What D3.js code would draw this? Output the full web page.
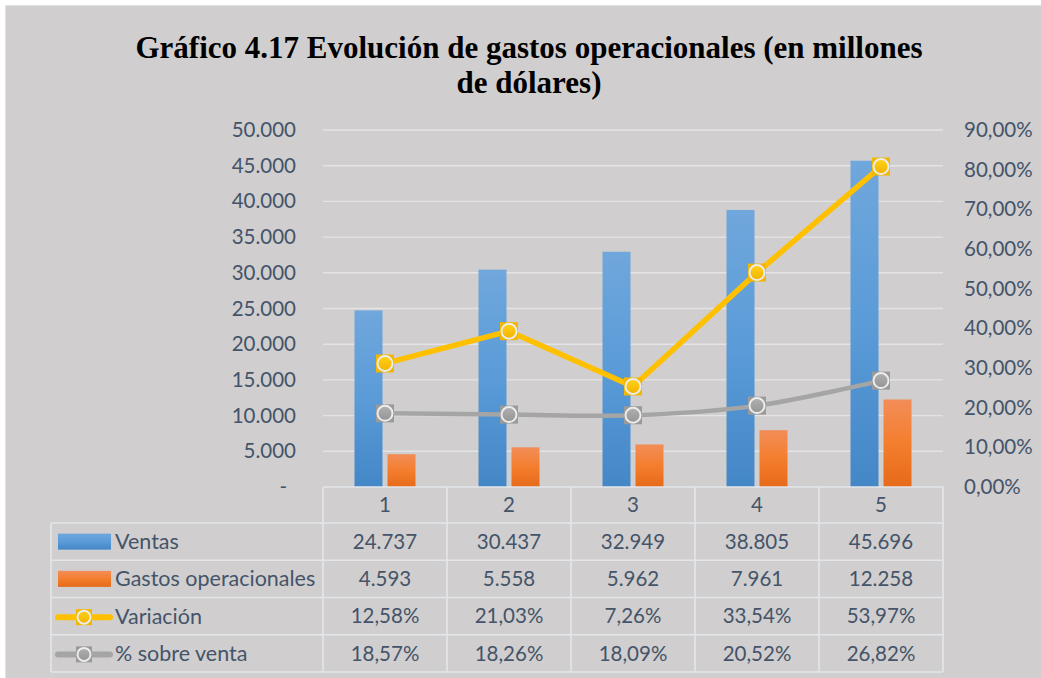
<!DOCTYPE html>
<html><head><meta charset="utf-8">
<script src="https://cdn.jsdelivr.net/npm/d3@7"></script>
<style>body{margin:0;background:#fff;}svg{display:block;}</style>
</head><body>
<svg id="c" width="1041" height="678"></svg>
<script>
const categories = ["1","2","3","4","5"];
const ventas = [24737, 30437, 32949, 38805, 45696];
const gastos = [4593, 5558, 5962, 7961, 12258];
const variacion = [12.58, 21.03, 7.26, 33.54, 53.97];
const sobreVenta = [18.57, 18.26, 18.09, 20.52, 26.82];
const leftTicks = [0,5000,10000,15000,20000,25000,30000,35000,40000,45000,50000];
const rightTicks = [0,10,20,30,40,50,60,70,80,90];
const ventasLabels = ["24.737","30.437","32.949","38.805","45.696"];
const gastosLabels = ["4.593","5.558","5.962","7.961","12.258"];
const variacionLabels = ["12,58%","21,03%","7,26%","33,54%","53,97%"];
const sobreLabels = ["18,57%","18,26%","18,09%","20,52%","26,82%"];
const titleLines = ["Gráfico 4.17 Evolución de gastos operacionales (en millones","de dólares)"];

const svg = d3.select("#c");
const TXT = "#44546a", FONT = "Lato, 'Open Sans', sans-serif";
const NUM = 20.5, NAME = 21.5;
const plotL = 323, plotR = 943, plotT = 130, plotB = 487;

const defs = svg.append("defs");
function lg(id, stops){
  const g = defs.append("linearGradient").attr("id",id).attr("x1",0).attr("y1",0).attr("x2",0).attr("y2",1);
  stops.forEach(([o,c])=>g.append("stop").attr("offset",o).attr("stop-color",c));
}
lg("gBlue",[[0,"#70a7dc"],[0.5,"#5a9bd8"],[1,"#4487c7"]]);
lg("gOrange",[[0,"#f28d58"],[0.5,"#f47e2e"],[1,"#e66a19"]]);
lg("gYel",[[0,"#ffd21a"],[1,"#f3b300"]]);
lg("gGray",[[0,"#b0b0b0"],[1,"#959595"]]);

svg.append("rect").attr("x",5.5).attr("y",5.5).attr("width",1040).attr("height",678)
  .attr("fill","#d0cece").attr("stroke","#e2e2e2").attr("stroke-width",1);

// title
svg.append("g").selectAll("text").data(titleLines).join("text")
  .attr("x",529).attr("y",(d,i)=>58+i*35).attr("text-anchor","middle")
  .attr("font-family","'Liberation Serif','Times New Roman',serif").attr("font-weight","bold")
  .attr("font-size",31).attr("fill","#000").text(d=>d);

const yL = d3.scaleLinear().domain([0,50000]).range([plotB,plotT]);
const yR = d3.scaleLinear().domain([0,90]).range([plotB,plotT]);
const x0 = d3.scaleBand().domain(categories).range([plotL,plotR]);
const x1 = d3.scaleBand().domain(["v","g"]).range([0,61]).paddingInner(0.1515);
const groupOff = (x0.bandwidth()-61)/2;

// gridlines
svg.append("g").selectAll("line").data(leftTicks.slice(1)).join("line")
  .attr("x1",plotL).attr("x2",plotR).attr("y1",d=>yL(d)).attr("y2",d=>yL(d))
  .attr("stroke","#e4e4e6").attr("stroke-width",1.4);

// left axis
const fmtL = d => d===0 ? "-" : d3.format(",")(d).replace(/,/g,".");
const axL = d3.axisLeft(yL).tickValues(leftTicks).tickSize(0).tickPadding(0).tickFormat(fmtL);
const gL = svg.append("g").attr("transform","translate(296,0)").call(axL);
gL.select(".domain").remove();
gL.selectAll("text").attr("font-family",FONT).attr("font-size",NUM).attr("fill",TXT)
  .attr("dx",d=>d===0?-9:0);

// right axis
const axR = d3.axisRight(yR).tickValues(rightTicks).tickSize(0).tickPadding(0)
  .tickFormat(d=>d3.format(".2f")(d).replace(".",",")+"%");
const gR = svg.append("g").attr("transform","translate(964,0)").call(axR);
gR.select(".domain").remove();
gR.selectAll("text").attr("font-family",FONT).attr("font-size",NUM).attr("fill",TXT);

// bars
const bars = svg.append("g");
categories.forEach((c,i)=>{
  const gx = x0(c)+groupOff;
  bars.append("rect").attr("x",gx+x1("v")).attr("width",x1.bandwidth())
    .attr("y",yL(ventas[i])).attr("height",plotB-yL(ventas[i])).attr("fill","url(#gBlue)");
  bars.append("rect").attr("x",gx+x1("g")).attr("width",x1.bandwidth())
    .attr("y",yL(gastos[i])).attr("height",plotB-yL(gastos[i])).attr("fill","url(#gOrange)");
});

// stacked lines
const rows = categories.map((c,i)=>({c, sobre:sobreVenta[i], vari:variacion[i]}));
const stack = d3.stack().keys(["sobre","vari"])(rows);
const cx = c => x0(c)+x0.bandwidth()/2;
const grayPts = stack[0].map(d=>[cx(d.data.c), yR(d[1])]);
const yelPts = stack[1].map(d=>[cx(d.data.c), yR(d[1])]);

svg.append("path").attr("d",d3.line().curve(d3.curveCatmullRom.alpha(0.5))(grayPts))
  .attr("fill","none").attr("stroke","#a5a5a5").attr("stroke-width",4.5).attr("stroke-linecap","round");
svg.append("path").attr("d",d3.line()(yelPts))
  .attr("fill","none").attr("stroke","#ffc000").attr("stroke-width",5.5).attr("stroke-linejoin","round").attr("stroke-linecap","round");

function marker(g, x, y, size, sq, grad, r){
  g.append("rect").attr("x",x-size/2).attr("y",y-size/2).attr("width",size).attr("height",size).attr("fill",sq);
  g.append("circle").attr("cx",x).attr("cy",y).attr("r",r).attr("fill",grad)
    .attr("stroke","#ececec").attr("stroke-width",2);
}
const mk = svg.append("g");
grayPts.forEach(p=>marker(mk,p[0],p[1],18,"#9a9a9a","url(#gGray)",7.5));
yelPts.forEach(p=>marker(mk,p[0],p[1],18,"#f2b700","url(#gYel)",7.5));

// data table
const tbl = svg.append("g");
const tL = 51, rowH = 37.25, tTop = 523;
const LC = "#e3e6eb", LW = 1.6;
tbl.append("line").attr("x1",plotL).attr("x2",plotR).attr("y1",plotB).attr("y2",plotB).attr("stroke",LC).attr("stroke-width",LW);
for(let r=0;r<=4;r++){
  tbl.append("line").attr("x1",tL).attr("x2",plotR).attr("y1",tTop+r*rowH).attr("y2",tTop+r*rowH).attr("stroke",LC).attr("stroke-width",LW);
}
tbl.append("line").attr("x1",tL).attr("x2",tL).attr("y1",tTop).attr("y2",tTop+4*rowH).attr("stroke",LC).attr("stroke-width",LW);
categories.forEach(c=>{
  tbl.append("line").attr("x1",x0(c)).attr("x2",x0(c)).attr("y1",plotB).attr("y2",tTop+4*rowH).attr("stroke",LC).attr("stroke-width",LW);
});
tbl.append("line").attr("x1",plotR).attr("x2",plotR).attr("y1",plotB).attr("y2",tTop+4*rowH).attr("stroke",LC).attr("stroke-width",LW);

tbl.selectAll("text.cat").data(categories).join("text").attr("class","cat")
  .attr("x",d=>cx(d)).attr("y",(plotB+tTop)/2).attr("dy","0.35em").attr("text-anchor","middle")
  .attr("font-family",FONT).attr("font-size",NUM).attr("fill",TXT).text(d=>d);

const tableRows = [
  {name:"Ventas", vals:ventasLabels, key:"bar", fill:"url(#gBlue)"},
  {name:"Gastos operacionales", vals:gastosLabels, key:"bar", fill:"url(#gOrange)"},
  {name:"Variación", vals:variacionLabels, key:"line", line:"#ffc000", sq:"#f2b700", grad:"url(#gYel)"},
  {name:"% sobre venta", vals:sobreLabels, key:"line", line:"#a5a5a5", sq:"#9a9a9a", grad:"url(#gGray)"}
];
tableRows.forEach((r,i)=>{
  const yc = tTop + rowH*i + rowH/2;
  if(r.key==="bar"){
    tbl.append("rect").attr("x",58).attr("y",yc-8).attr("width",53).attr("height",16).attr("fill",r.fill);
  } else {
    tbl.append("line").attr("x1",58).attr("x2",110).attr("y1",yc+1).attr("y2",yc+1)
      .attr("stroke",r.line).attr("stroke-width",6).attr("stroke-linecap","round");
    tbl.append("rect").attr("x",76).attr("y",yc+1-8).attr("width",16).attr("height",16).attr("fill",r.sq);
    tbl.append("circle").attr("cx",84).attr("cy",yc+1).attr("r",6.5).attr("fill",r.grad).attr("stroke","#ececec").attr("stroke-width",2);
  }
  tbl.append("text").attr("x",115).attr("y",yc).attr("dy","0.35em")
    .attr("font-family",FONT).attr("font-size",NAME).attr("fill",TXT).text(r.name);
  categories.forEach((c,j)=>{
    tbl.append("text").attr("x",cx(c)).attr("y",yc).attr("dy","0.35em").attr("text-anchor","middle")
      .attr("font-family",FONT).attr("font-size",NUM).attr("fill",TXT).text(r.vals[j]);
  });
});
</script>
</body></html>
